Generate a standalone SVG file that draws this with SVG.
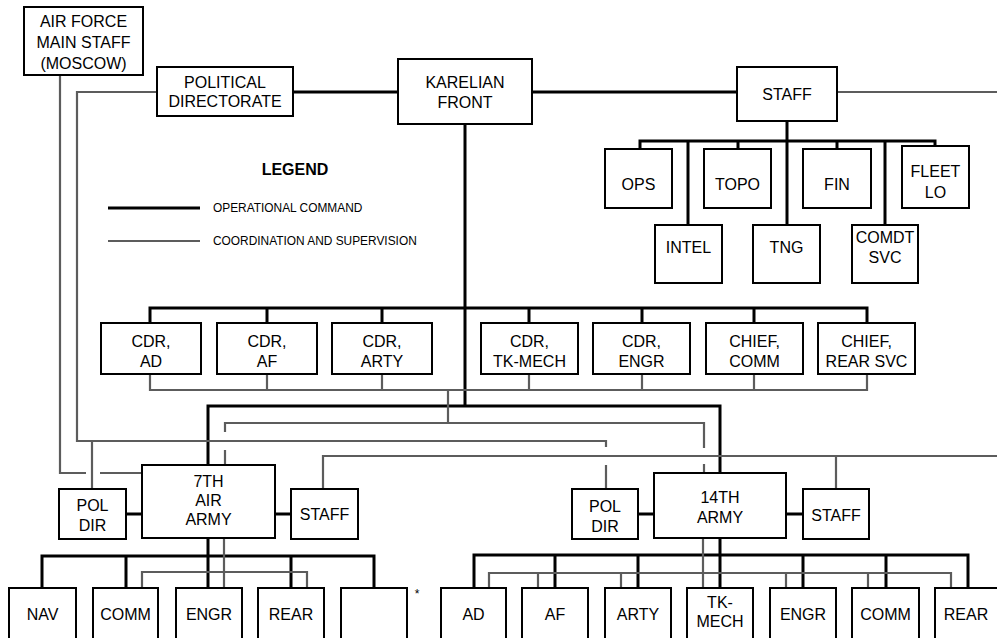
<svg xmlns="http://www.w3.org/2000/svg" width="997" height="638" viewBox="0 0 997 638">
<style>
.box{fill:#fff;stroke:#000;stroke-width:2}
.op{stroke:#000;stroke-width:3;fill:none}
.co{stroke:#5c5c5c;stroke-width:2.2;fill:none}
text{font-family:"Liberation Sans",Arial,sans-serif;font-size:16px;text-anchor:middle;fill:#000}
.lg{font-size:11.9px;text-anchor:start}
.lgh{font-size:16px;font-weight:bold}
</style>
<rect width="997" height="638" fill="#fff"/>
<g id="connectors">
<path class="op" d="M293,92H398M532,92H737M465,124V406"/>
<path class="op" d="M150,323V308H867V323M267,308V323M382,308V323M529,308V323M642,308V323M754,308V323"/>
<path class="op" d="M208,465V406H720V473"/>
<path class="op" d="M787,121V225M640,149V141H935V146M688,141V225M738,141V149M837,141V149M885,141V225"/>
<path class="op" d="M126,514H142M275,514H291M208,538V588M42,588V556H374V588M126,556V588M291,556V588"/>
<path class="op" d="M638,514H654M786,514H803M720,538V588M474,588V555H968V588M555,555V588M638,555V588M803,555V588M886,555V588"/>
<path class="co" d="M837,92H997"/>
<path class="co" d="M157,92H77V441H606V447M606,465V489"/>
<path class="co" d="M60,75V473H86M100,473H142"/>
<path class="co" d="M92,441V489"/>
<path class="co" d="M150,374V390H867V374M267,374V390M382,374V390M529,374V390M642,374V390M754,374V390"/>
<path class="co" d="M448,390V423"/>
<path class="co" d="M225,432V423H704V448M225,450V465M704,464V473"/>
<path class="co" d="M323,489V456H997M836,456V489"/>
<path class="co" d="M224,538V588M142,588V572H307V588"/>
<path class="co" d="M703,538V588M489,588V573H951V588M538,573V588M621,573V588M786,573V588M868,573V588"/>
</g>
<g id="legend">
<text class="lgh" x="295" y="175">LEGEND</text>
<path class="op" d="M108,208H200"/>
<text class="lg" x="213" y="212">OPERATIONAL COMMAND</text>
<path class="co" d="M108,241H200"/>
<text class="lg" x="213" y="245">COORDINATION AND SUPERVISION</text>
</g>
<g id="airforce"><rect class="box" x="24" y="7" width="119" height="68"/><text x="83.5" y="26.5">AIR FORCE</text><text x="83.5" y="47.5">MAIN STAFF</text><text x="83.5" y="68.5">(MOSCOW)</text></g>
<g id="politdir"><rect class="box" x="157" y="67" width="136" height="49"/><text x="225" y="87.5">POLITICAL</text><text x="225" y="107">DIRECTORATE</text></g>
<g id="karelian"><rect class="box" x="398" y="59" width="134" height="65"/><text x="465" y="88">KARELIAN</text><text x="465" y="108">FRONT</text></g>
<g id="staff"><rect class="box" x="737" y="67" width="100" height="54"/><text x="787" y="100">STAFF</text></g>
<g id="ops"><rect class="box" x="605" y="149" width="67" height="59"/><text x="638.5" y="190">OPS</text></g>
<g id="topo"><rect class="box" x="704" y="149" width="67" height="59"/><text x="737.5" y="190">TOPO</text></g>
<g id="fin"><rect class="box" x="803" y="149" width="68" height="59"/><text x="837" y="190">FIN</text></g>
<g id="fleet"><rect class="box" x="902" y="146" width="67" height="62"/><text x="935.5" y="177">FLEET</text><text x="935.5" y="198">LO</text></g>
<g id="intel"><rect class="box" x="655" y="225" width="67" height="58"/><text x="688.5" y="253">INTEL</text></g>
<g id="tng"><rect class="box" x="753" y="225" width="67" height="58"/><text x="786.5" y="253">TNG</text></g>
<g id="comdt"><rect class="box" x="852" y="225" width="66" height="58"/><text x="885" y="243">COMDT</text><text x="885" y="263">SVC</text></g>
<g id="cdr-ad"><rect class="box" x="101" y="323" width="100" height="51"/><text x="151" y="347">CDR,</text><text x="151" y="366.5">AD</text></g>
<g id="cdr-af"><rect class="box" x="217" y="323" width="100" height="51"/><text x="267" y="347">CDR,</text><text x="267" y="366.5">AF</text></g>
<g id="cdr-arty"><rect class="box" x="332" y="323" width="100" height="51"/><text x="382" y="347">CDR,</text><text x="382" y="366.5">ARTY</text></g>
<g id="cdr-tkmech"><rect class="box" x="481" y="323" width="97" height="51"/><text x="529.5" y="347">CDR,</text><text x="529.5" y="366.5">TK-MECH</text></g>
<g id="cdr-engr"><rect class="box" x="593" y="323" width="97" height="51"/><text x="641.5" y="347">CDR,</text><text x="641.5" y="366.5">ENGR</text></g>
<g id="chief-comm"><rect class="box" x="706" y="323" width="97" height="51"/><text x="754.5" y="347">CHIEF,</text><text x="754.5" y="366.5">COMM</text></g>
<g id="chief-rear"><rect class="box" x="818" y="323" width="97" height="51"/><text x="866.5" y="347">CHIEF,</text><text x="866.5" y="366.5">REAR SVC</text></g>
<g id="army7"><rect class="box" x="142" y="465" width="133" height="73"/><text x="208.5" y="487">7TH</text><text x="208.5" y="506">AIR</text><text x="208.5" y="525">ARMY</text></g>
<g id="pol7"><rect class="box" x="59" y="489" width="67" height="50"/><text x="92.5" y="511">POL</text><text x="92.5" y="531">DIR</text></g>
<g id="staff7"><rect class="box" x="291" y="489" width="67" height="50"/><text x="324.5" y="520">STAFF</text></g>
<g id="army14"><rect class="box" x="654" y="473" width="132" height="65"/><text x="720" y="503">14TH</text><text x="720" y="523">ARMY</text></g>
<g id="pol14"><rect class="box" x="572" y="489" width="66" height="50"/><text x="605" y="512">POL</text><text x="605" y="532">DIR</text></g>
<g id="staff14"><rect class="box" x="803" y="489" width="66" height="50"/><text x="836" y="521">STAFF</text></g>
<g id="nav"><rect class="box" x="9" y="588" width="67" height="60"/><text x="42.5" y="620">NAV</text></g>
<g id="comm7"><rect class="box" x="93" y="588" width="65" height="60"/><text x="125.5" y="620">COMM</text></g>
<g id="engr7"><rect class="box" x="176" y="588" width="66" height="60"/><text x="209" y="620">ENGR</text></g>
<g id="rear7"><rect class="box" x="258" y="588" width="66" height="60"/><text x="291" y="620">REAR</text></g>
<g id="blank7"><rect class="box" x="341" y="588" width="66" height="60"/></g>
<text x="417" y="598" style="font-size:12px">*</text>
<g id="ad14"><rect class="box" x="441" y="588" width="65" height="60"/><text x="473.5" y="620">AD</text></g>
<g id="af14"><rect class="box" x="522" y="588" width="66" height="60"/><text x="555" y="620">AF</text></g>
<g id="arty14"><rect class="box" x="605" y="588" width="66" height="60"/><text x="638" y="620">ARTY</text></g>
<g id="tkmech14"><rect class="box" x="687" y="588" width="66" height="60"/><text x="720" y="608">TK-</text><text x="720" y="627">MECH</text></g>
<g id="engr14"><rect class="box" x="770" y="588" width="66" height="60"/><text x="803" y="620">ENGR</text></g>
<g id="comm14"><rect class="box" x="852" y="588" width="67" height="60"/><text x="885.5" y="620">COMM</text></g>
<g id="rear14"><rect class="box" x="935" y="588" width="70" height="60"/><text x="966" y="620">REAR</text></g>
</svg>
